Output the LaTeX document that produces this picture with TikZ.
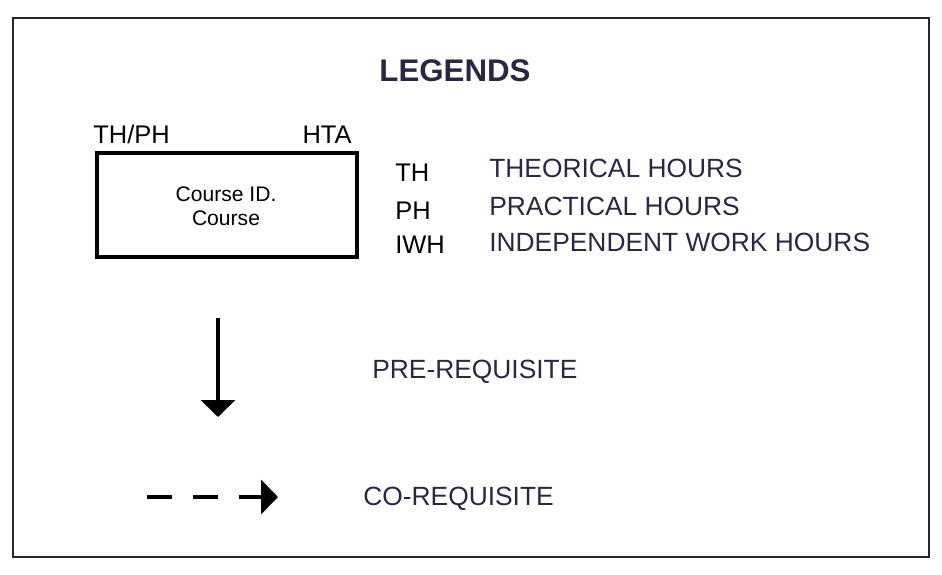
\documentclass[tikz,border=0pt]{standalone}
\usepackage{fontspec}
\setmainfont{Liberation Sans}
\usetikzlibrary{positioning,arrows.meta}
\definecolor{navy}{RGB}{40,40,66}
\tikzset{
  frame/.style={
    draw=black!85,
    line width=0.6pt
  },
  coursebox/.style={
    draw,
    rectangle,
    line width=2.2pt,
    minimum width=5.2cm,
    minimum height=2.08cm
  },
  lbl/.style={
    inner sep=0pt,
    anchor=base west,
    font=\fontsize{14.5}{17}\selectfont
  },
  desc/.style={
    inner sep=0pt,
    anchor=base west,
    text=navy,
    font=\fontsize{15}{18}\selectfont
  },
  small/.style={
    inner sep=0pt,
    anchor=base,
    font=\fontsize{12}{14}\selectfont
  },
  line/.style={-{Triangle[width=0.68cm,length=0.34cm]},line width=2.2pt}
}

\begin{document}
\begin{tikzpicture}

				\useasboundingbox (0,0) rectangle (18.84,-11.48);
				\draw[frame] (0.26,-0.36) rectangle (18.58,-11.14);

				\node[inner sep=0pt, anchor=base, text=navy, font=\fontsize{17.8}{20}\selectfont\bfseries] (t) at (9.1,-1.62) {LEGENDS};

				\node[coursebox] (a) at (4.54,-4.1) {};
				\node[small] (c1) at (4.52,-4.02) {Course ID.};
				\node[small] (c2) at (4.52,-4.5) {Course};

				\node[lbl] (th) at (1.86,-2.86) {TH/PH};
				\node[lbl, anchor=base east] (hta) at (7.04,-2.86) {HTA};

				\node[lbl] (b1) at (7.9,-3.62) {TH};
				\node[lbl] (b2) at (7.9,-4.38) {PH};
				\node[lbl] (b3) at (7.9,-5.06) {IWH};

				\node[desc] (d1) at (9.78,-3.54) {THEORICAL HOURS};
				\node[desc] (d2) at (9.78,-4.3) {PRACTICAL HOURS};
				\node[desc] (d3) at (9.78,-5.02) {INDEPENDENT WORK HOURS};

				\coordinate (p) at (4.36,-6.36);
				\coordinate (q) at (4.36,-8.34);
				\draw[line] (p) -- (q) ;
				\node[desc] (e) at (7.44,-7.56) {PRE-REQUISITE};

				\coordinate (r) at (2.94,-9.94);
				\coordinate (s) at (5.56,-9.94);
				\draw[line, dash pattern=on 0.5cm off 0.42cm] (r) -- (s) ;
				\node[desc] (f) at (7.26,-10.1) {CO-REQUISITE};

\end{tikzpicture}
\end{document}
